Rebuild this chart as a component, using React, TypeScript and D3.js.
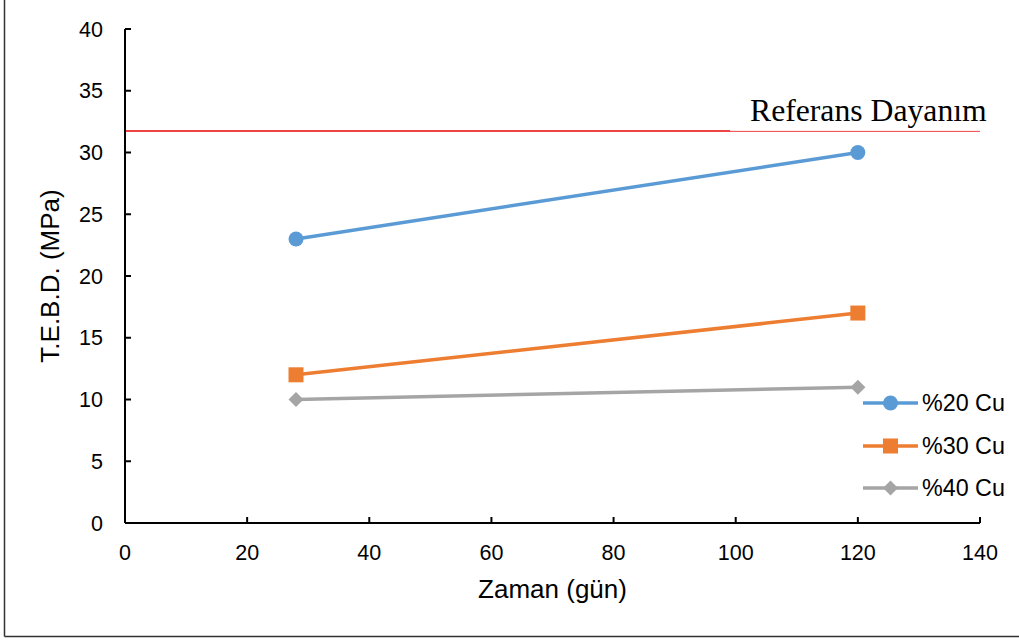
import React from "react";
import * as d3 from "d3";

const days = [28, 120];
const cu20 = [23, 30];
const cu30 = [12, 17];
const cu40 = [10, 11];
const seriesNames = ["%20 Cu", "%30 Cu", "%40 Cu"];
const seriesColors = ["#5B9BD5", "#ED7D31", "#A5A5A5"];
const xTicks = [0, 20, 40, 60, 80, 100, 120, 140];
const yTicks = [0, 5, 10, 15, 20, 25, 30, 35, 40];
const referenceValue = 31.75;
const referenceLabel = "Referans Dayanım";

const W = 1019;
const H = 641;

export default function App() {
  const x = d3.scaleLinear().domain([0, 140]).range([125, 980]);
  const y = d3.scaleLinear().domain([0, 40]).range([523, 29]);
  const line = d3
    .line<[number, number]>()
    .x((d) => x(d[0]))
    .y((d) => y(d[1]));
  const all = [cu20, cu30, cu40];
  const font = "Liberation Sans, Arial, sans-serif";

  const marker = (k: number, cx: number, cy: number, key: string) => {
    const c = seriesColors[k];
    if (k === 0) return <circle key={key} cx={cx} cy={cy} r={7.5} fill={c} />;
    if (k === 1)
      return <rect key={key} x={cx - 7.5} y={cy - 7.5} width={15} height={15} fill={c} />;
    return (
      <path
        key={key}
        d={`M${cx},${cy - 7.5}L${cx + 7.5},${cy}L${cx},${cy + 7.5}L${cx - 7.5},${cy}Z`}
        fill={c}
      />
    );
  };

  const legendY = [403, 446, 488];

  return (
    <svg
      width={W}
      height={H}
      style={{ position: "absolute", left: 0, top: 0, background: "#fff" }}
    >
      <rect x={0} y={0} width={W} height={H} fill="#fff" />
      {/* outer frame (partially visible) */}
      <line x1={4.5} y1={0} x2={4.5} y2={636.5} stroke="#333" strokeWidth={1.5} />
      <line x1={4.5} y1={636.5} x2={W} y2={636.5} stroke="#333" strokeWidth={1.5} />

      {/* reference line */}
      <line
        x1={x(0)}
        x2={730}
        y1={y(referenceValue)}
        y2={y(referenceValue)}
        stroke="#EE4444"
        strokeWidth={2}
      />
      <line
        x1={730}
        x2={x(140)}
        y1={y(referenceValue) + 0.5}
        y2={y(referenceValue) + 0.5}
        stroke="#EE4444"
        strokeWidth={1}
      />
      <text
        x={750}
        y={121}
        fontFamily="Liberation Serif, Times New Roman, serif"
        fontSize={31.7}
        fill="#000"
      >
        {referenceLabel}
      </text>

      {/* axes */}
      <line x1={x(0)} x2={x(0)} y1={y(0)} y2={y(40)} stroke="#000" strokeWidth={2} />
      <line x1={x(0)} x2={x(140)} y1={y(0)} y2={y(0)} stroke="#000" strokeWidth={2} />
      {yTicks.map((t) => (
        <g key={"y" + t}>
          <line x1={x(0)} x2={x(0) + 6} y1={y(t)} y2={y(t)} stroke="#000" strokeWidth={2} />
          <text
            x={103}
            y={y(t)}
            dy="0.36em"
            textAnchor="end"
            fontFamily={font}
            fontSize={21.5}
            fill="#000"
          >
            {t}
          </text>
        </g>
      ))}
      {xTicks.map((t) => (
        <g key={"x" + t}>
          <line x1={x(t)} x2={x(t)} y1={y(0)} y2={y(0) - 6} stroke="#000" strokeWidth={2} />
          <text
            x={x(t)}
            y={560}
            textAnchor="middle"
            fontFamily={font}
            fontSize={21.5}
            fill="#000"
          >
            {t}
          </text>
        </g>
      ))}

      {/* axis titles */}
      <text
        x={552.5}
        y={598}
        textAnchor="middle"
        fontFamily={font}
        fontSize={26}
        fill="#000"
      >
        Zaman (gün)
      </text>
      <text
        transform={`translate(59,276) rotate(-90)`}
        textAnchor="middle"
        fontFamily={font}
        fontSize={26}
        fill="#000"
      >
        T.E.B.D. (MPa)
      </text>

      {/* series */}
      {all.map((vals, k) => {
        const pts: [number, number][] = days.map((d, i) => [d, vals[i]]);
        return (
          <g key={"s" + k}>
            <path d={line(pts) || ""} fill="none" stroke={seriesColors[k]} strokeWidth={3.5} />
            {pts.map((p, i) => marker(k, x(p[0]), y(p[1]), `m${k}-${i}`))}
          </g>
        );
      })}

      {/* legend */}
      {seriesNames.map((name, k) => (
        <g key={"l" + k}>
          <line
            x1={863}
            x2={918}
            y1={legendY[k]}
            y2={legendY[k]}
            stroke={seriesColors[k]}
            strokeWidth={3.5}
          />
          {marker(k, 890.5, legendY[k], "lm" + k)}
          <text
            x={922}
            y={legendY[k]}
            dy="0.36em"
            fontFamily={font}
            fontSize={23.3}
            fill="#000"
          >
            {name}
          </text>
        </g>
      ))}
    </svg>
  );
}
